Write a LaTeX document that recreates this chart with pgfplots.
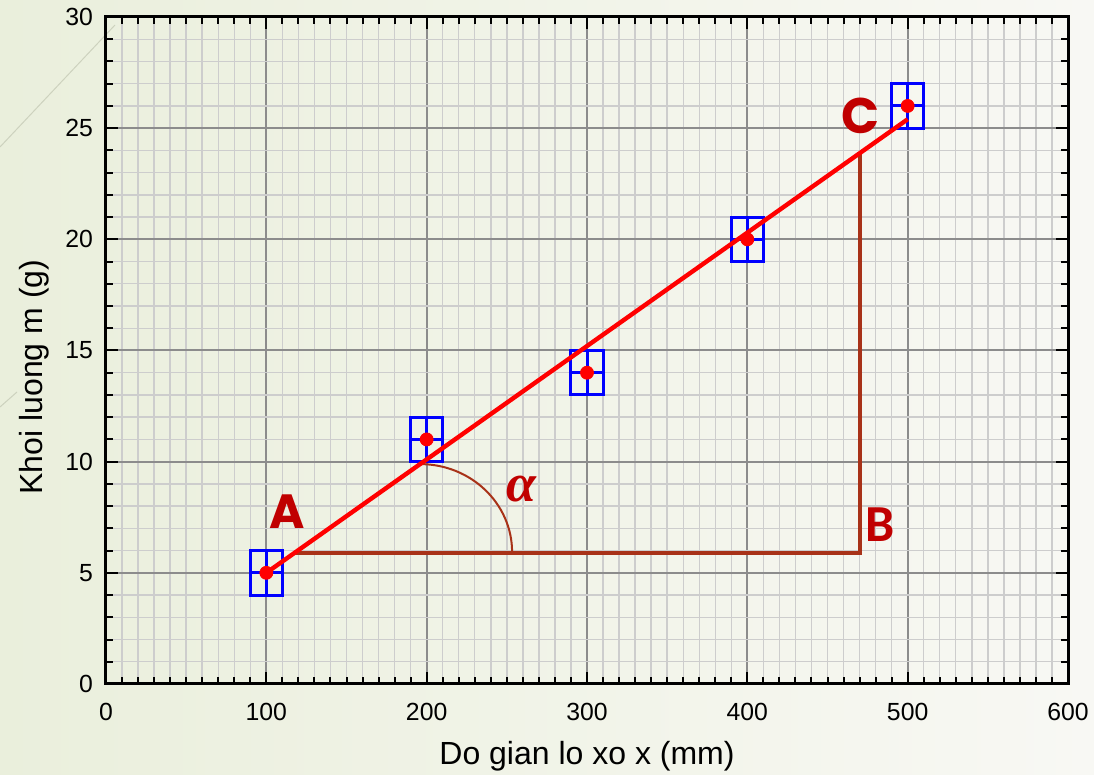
\documentclass[border=0pt]{standalone}
\usepackage{pgfplots}
\pgfplotsset{compat=1.18}
\usepackage{pgfplotstable}
\usepackage{fontspec}
\setmainfont{Liberation Sans}
\newfontfamily\labelfont{Poppins}
\newfontfamily\calfont{Carlito}
\newfontfamily\greekfont{Liberation Serif}

\definecolor{fitred}{RGB}{255,0,0}
\definecolor{boxblue}{RGB}{0,0,255}
\definecolor{tribrown}{RGB}{168,50,24}
\definecolor{lblred}{RGB}{192,0,0}
\definecolor{gridmajor}{RGB}{140,140,140}
\definecolor{gridminor}{RGB}{205,205,205}
\definecolor{bgleft}{RGB}{234,239,220}
\definecolor{bgright}{RGB}{248,248,244}
\definecolor{deco}{RGB}{205,210,190}

% measured spring extension (mm) and mass (g)
\pgfplotstableread{
x y
100 5
200 11
300 14
400 20
500 26
}\measured

\begin{document}
\begin{tikzpicture}
% slide background
\shade[left color=bgleft,right color=bgright] (-53pt,-45.5pt) rectangle (494pt,342pt);
\draw[deco,line width=0.5pt] (-53pt,268.5pt) -- (4.5pt,329.5pt);
\draw[deco,line width=0.5pt] (-53pt,138.5pt) -- (-44.5pt,146pt);
\begin{axis}[
  at={(0,0)}, anchor=south west,
  scale only axis, width=481pt, height=333.5pt,
  xmin=0, xmax=600, ymin=0, ymax=30,
  xtick={0,100,...,600}, ytick={0,5,...,30},
  minor x tick num=9, minor y tick num=4,
  grid=both,
  major grid style={gridmajor, line width=1pt},
  minor grid style={gridminor, line width=0.7pt},
  tick align=inside,
  major tick length=6pt, minor tick length=3.5pt,
  tick style={black, line width=1pt},
  xtick pos=both, ytick pos=both,
  xticklabel pos=lower, yticklabel pos=left,
  axis line style={black, line width=1.5pt},
  /pgf/number format/assume math mode=true,
  tick label style={font=\fontsize{12.4}{14}\selectfont},
  xticklabel style={yshift=-6pt},
  yticklabel style={xshift=-3pt},
  xlabel={Do gian lo xo x (mm)},
  ylabel={Khoi luong m (g)},
  label style={font=\fontsize{16}{19}\selectfont},
  xlabel style={at={(axis description cs:0.5,-0.1214)}, anchor=base},
  ylabel style={at={(axis description cs:-0.0665,0.46)}, anchor=base},
  clip=false,
]
% uncertainty boxes
\addplot[boxblue, line width=1.5pt] coordinates {(90,4) (110,4) (110,6) (90,6)} -- cycle;
\addplot[boxblue, line width=1.5pt] coordinates {(190,10) (210,10) (210,12) (190,12)} -- cycle;
\addplot[boxblue, line width=1.5pt] coordinates {(290,13) (310,13) (310,15) (290,15)} -- cycle;
\addplot[boxblue, line width=1.5pt] coordinates {(390,19) (410,19) (410,21) (390,21)} -- cycle;
\addplot[boxblue, line width=1.5pt] coordinates {(490,25) (510,25) (510,27) (490,27)} -- cycle;
\addplot[only marks, mark=none,
  error bars/.cd, x dir=both, x fixed=10, y dir=both, y fixed=1,
  error mark=none, error bar style={boxblue, line width=1.5pt}] table {\measured};
% slope triangle
\addplot[tribrown, line width=2pt, line join=miter] coordinates {(117.6,5.9) (470,5.9) (470,23.87)};
\draw[tribrown, line width=1pt] (axis cs:195.9,9.89) arc[start angle=90, end angle=0, x radius=46pt, y radius=44pt];
% fitted line
\addplot[fitred, line width=2.2pt] coordinates {(100,5) (500,25.4)};
% measured points
\addplot[only marks, mark=*, mark size=3.25pt, mark options={draw=fitred, fill=fitred}] table {\measured};
% labels
\node[lblred, font=\labelfont\bfseries\fontsize{24}{28}\selectfont] at (axis cs:112.9,7.74) {A};
\node[lblred, font=\labelfont\bfseries\fontsize{25}{28}\selectfont] at (axis cs:470.4,25.55) {C};
\node[lblred, font=\calfont\bfseries\fontsize{26}{30}\selectfont] at (axis cs:482.5,7.18) {B};
\node[lblred, font=\greekfont\bfseries\itshape\fontsize{27}{30}\selectfont] at (axis cs:258.9,8.77) {α};
\end{axis}
\pgfresetboundingbox
\path (-53pt,-45.5pt) rectangle (494pt,342pt);
\end{tikzpicture}
\end{document}
